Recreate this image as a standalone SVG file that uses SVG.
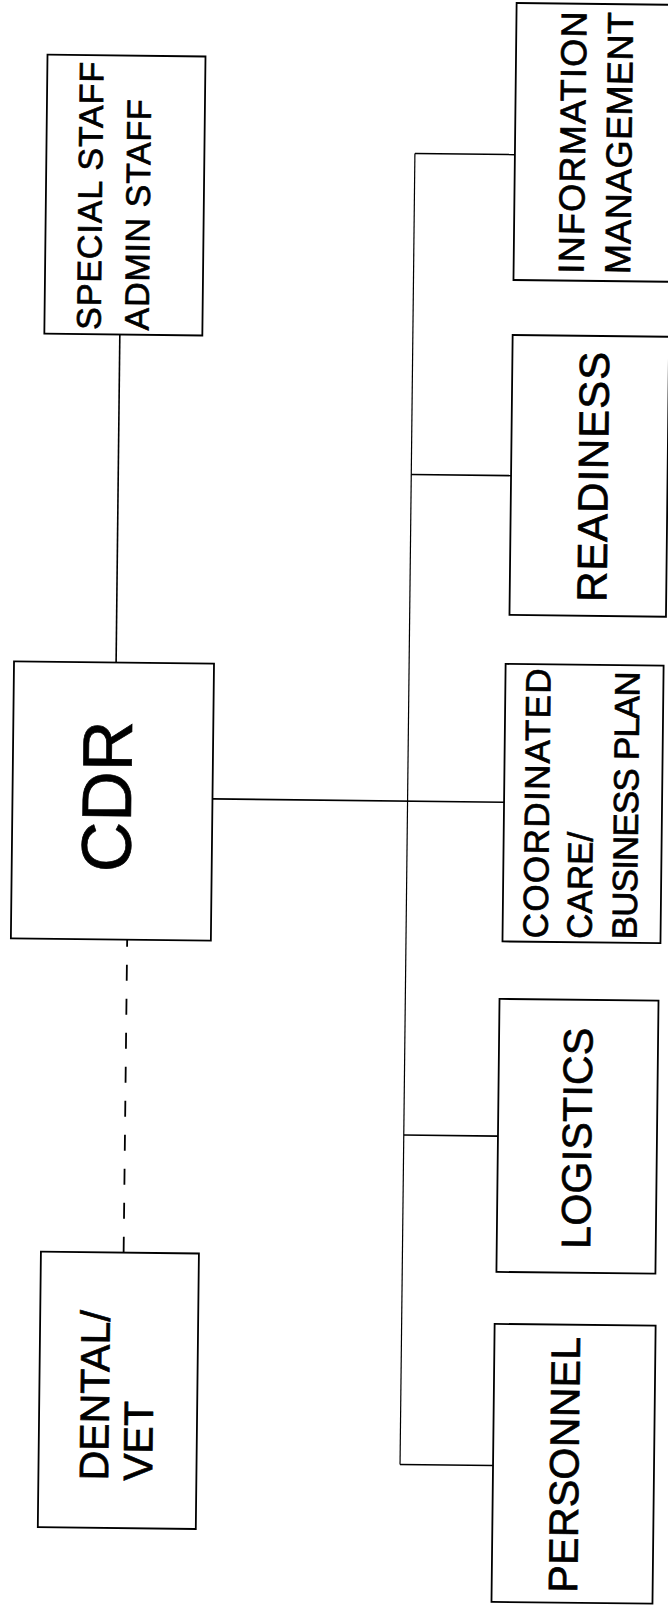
<svg xmlns="http://www.w3.org/2000/svg" width="668" height="1612" viewBox="0 0 668 1612">
<style>
.box{fill:#fff;stroke:#000;stroke-width:1.8}
.ln{stroke:#000;stroke-width:1.6;fill:none}
.trunk{stroke:#000;stroke-width:1.2;fill:none}
.dash{stroke:#000;stroke-width:1.8;fill:none;stroke-dasharray:16 18;stroke-dashoffset:9}
.t{font-family:"Liberation Sans",Arial,Helvetica,sans-serif;fill:#000;stroke:#000;stroke-width:0.7}
</style>
<rect x="0" y="0" width="668" height="1612" fill="#fff"/>
<g transform="rotate(0.65 334 806)">
<g id="connectors">
<line class="ln" x1="114.5" y1="337" x2="114.5" y2="665"/>
<line class="dash" x1="128.7" y1="942" x2="128.7" y2="1255"/>
<line class="trunk" x1="407.5" y1="152.6" x2="407.5" y2="1463.7"/>
<line class="ln" x1="407.5" y1="152.6" x2="507.5" y2="152.6"/>
<line class="ln" x1="407.5" y1="473.6" x2="507.3" y2="473.6"/>
<line class="ln" x1="212.4" y1="800.3" x2="504" y2="800.3"/>
<line class="ln" x1="407.5" y1="1134.2" x2="501.7" y2="1134.2"/>
<line class="ln" x1="407.5" y1="1463.7" x2="500.5" y2="1463.7"/>
</g>
<g id="special-staff">
<rect class="box" x="39" y="58" width="158" height="279"/>
<text class="t" font-size="34" textLength="268" transform="rotate(-90 95 332.6)" x="95" y="332.6">SPECIAL STAFF</text>
<text class="t" font-size="34" textLength="231" transform="rotate(-90 143 332.6)" x="143" y="332.6">ADMIN STAFF</text>
</g>
<g id="cdr">
<rect class="box" x="12.4" y="665" width="200" height="277"/>
<text class="t" font-size="70" text-anchor="middle" transform="rotate(-90 131 799)" x="131" y="799">CDR</text>
</g>
<g id="dental-vet">
<rect class="box" x="46" y="1255" width="158" height="275.5"/>
<text class="t" font-size="41" transform="rotate(-90 115.7 1483)" x="115.7" y="1483">DENTAL/</text>
<text class="t" font-size="41" transform="rotate(-90 159.7 1483)" x="159.7" y="1483">VET</text>
</g>
<g id="information-management">
<rect class="box" x="507.5" y="1" width="158" height="277"/>
<text class="t" font-size="36" textLength="262" transform="rotate(-90 577.5 271)" x="577.5" y="271">INFORMATION</text>
<text class="t" font-size="36" textLength="262" transform="rotate(-90 624 271)" x="624" y="271">MANAGEMENT</text>
</g>
<g id="readiness">
<rect class="box" x="507.3" y="333" width="156.5" height="280"/>
<text class="t" font-size="42" textLength="250" transform="rotate(-90 604 599)" x="604" y="599">READINESS</text>
</g>
<g id="coordinated-care">
<rect class="box" x="504" y="662" width="158" height="277.5"/>
<text class="t" font-size="35" textLength="270" transform="rotate(-90 549 936)" x="549" y="936">COORDINATED</text>
<text class="t" font-size="35" transform="rotate(-90 593 936)" x="593" y="936">CARE/</text>
<text class="t" font-size="35" textLength="268" transform="rotate(-90 638 936)" x="638" y="936">BUSINESS PLAN</text>
</g>
<g id="logistics">
<rect class="box" x="501.7" y="997" width="159" height="273"/>
<text class="t" font-size="41" textLength="221" transform="rotate(-90 595 1246)" x="595" y="1246">LOGISTICS</text>
</g>
<g id="personnel">
<rect class="box" x="500.5" y="1322" width="161" height="278"/>
<text class="t" font-size="41" textLength="256" transform="rotate(-90 586 1590)" x="586" y="1590">PERSONNEL</text>
</g>
</g>
</svg>
